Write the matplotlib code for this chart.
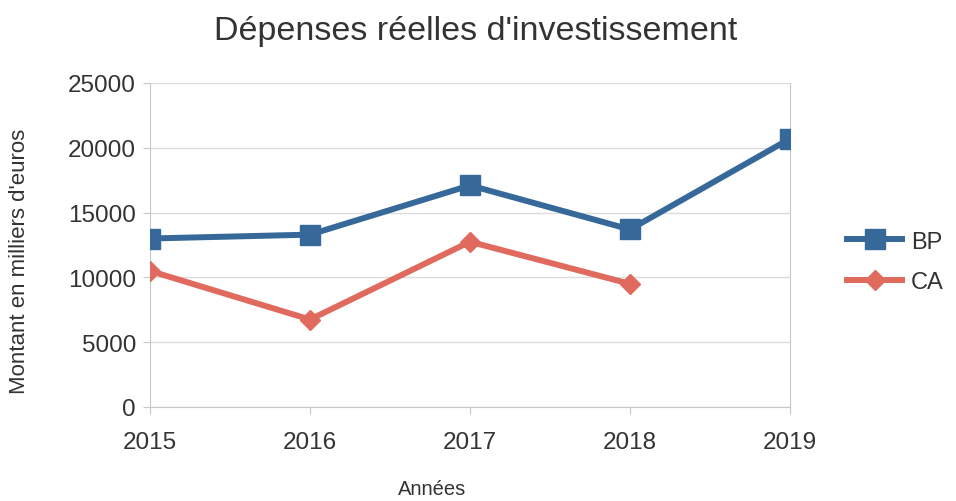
import matplotlib
matplotlib.use("Agg")
import matplotlib.pyplot as plt

years = ["2015", "2016", "2017", "2018", "2019"]
bp = [13000, 13300, 17100, 13700, 20700]
ca_years = ["2015", "2016", "2017", "2018"]
ca = [10500, 6750, 12750, 9500]
yticks = [0, 5000, 10000, 15000, 20000, 25000]

plt.rcParams['font.family'] = ['Liberation Sans', 'DejaVu Sans']

W, H = 956, 502
fig = plt.figure(figsize=(W/100, H/100), dpi=100)
ax = fig.add_axes([150/W, 1-408/H, 640/W, 324/H])

x_bp = list(range(len(years)))
x_ca = list(range(len(ca_years)))
ax.plot(x_bp, bp, color="#36699a", lw=4.3, marker="s", markersize=14, label="BP", zorder=3)
ax.plot(x_ca, ca, color="#e06a5e", lw=4.3, marker="D", markersize=10, label="CA", zorder=3)

ax.set_xlim(0, len(years)-1)
ax.set_ylim(0, 25000)
ax.set_xticks(x_bp)
ax.set_xticklabels(years)
ax.set_yticks(yticks)
ax.set_yticklabels([str(v) for v in yticks])
ax.grid(axis="y", color="#dcdcdc", lw=1)
ax.set_axisbelow(True)
ax.spines["top"].set_visible(False)
for s in ["left", "bottom", "right"]:
    ax.spines[s].set_color("#c8c8c8")
ax.tick_params(axis="both", colors="#c8c8c8", labelcolor="#333333", labelsize=17.5, length=5)
ax.tick_params(axis="x", pad=12)
ax.tick_params(axis="y", pad=5)

fig.text(476/W, 1-32/H, "Dépenses réelles d'investissement", fontsize=24.5,
         color="#333333", ha="center", va="center")
fig.text(432/W, 1-490/H, "Années", fontsize=14.5, color="#333333", ha="center", va="center")
fig.text(20/W, 1-261/H, "Montant en milliers d'euros", fontsize=16, color="#333333",
         ha="center", va="center", rotation=90)

fig.legend(loc="center left", bbox_to_anchor=(847/W, 1-263/H), frameon=False,
           borderpad=0, borderaxespad=0,
           fontsize=17, handlelength=2.35, labelspacing=0.8, handletextpad=0.35,
           labelcolor="#333333")

fig.savefig("out.png", dpi=100, facecolor="white")
